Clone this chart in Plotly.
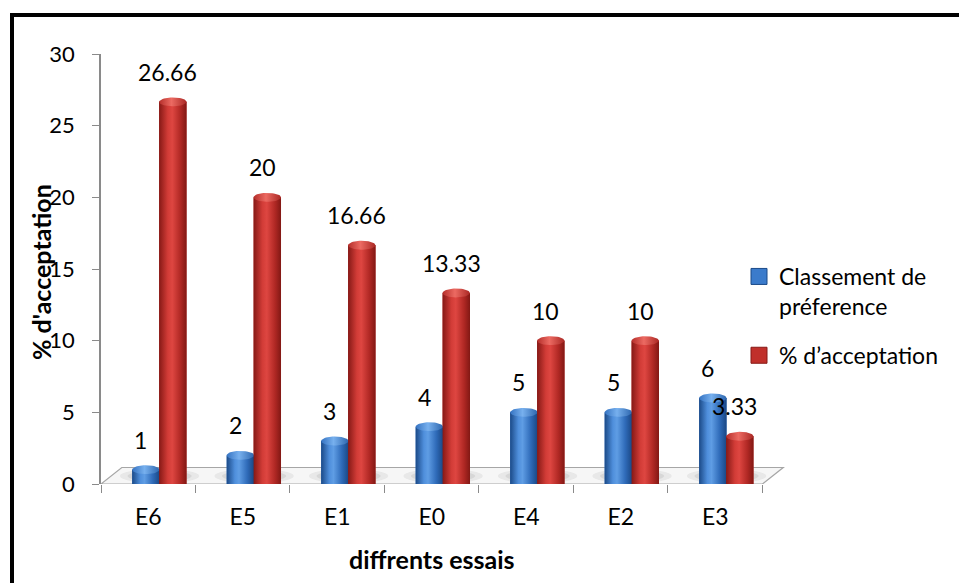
import numpy as np
import plotly.graph_objects as go

# Trials, ordered by preference rank
essais = ["E6", "E5", "E1", "E0", "E4", "E2", "E3"]
classement = [1, 2, 3, 4, 5, 5, 6]
acceptation = [26.66, 20, 16.66, 13.33, 10, 10, 3.33]
y_ticks = [0, 5, 10, 15, 20, 25, 30]

W, H = 959, 583
L, R, T, B = 101, 791, 54, 484          # plot area in pixels
X_RANGE = [-0.5, 6.802]
Y_RANGE = [0, 30]
FONT = "Lato"


def px_x(p):
    return (p - L) / (R - L)


def px_y(p):
    return (B - p) / (B - T)


BAR_W = 0.29
series = [
    dict(name="Classement de<br>préference", values=classement, offset=-0.17,
         color="#3b7bcb",
         body=[[0, "#1b4a88"], [0.3, "#4f8fdc"], [0.45, "#5f9de4"], [0.75, "#2f6bb9"], [1, "#1a4784"]],
         cap=[[0, "#3573c2"], [0.45, "#77b0ee"], [1, "#2d66ae"]]),
    dict(name="% d’acceptation", values=acceptation, offset=0.115,
         color="#c0302b",
         body=[[0, "#861916"], [0.32, "#d23c37"], [0.48, "#de4641"], [0.78, "#b02824"], [1, "#821814"]],
         cap=[[0, "#b52e2a"], [0.45, "#ec6a62"], [1, "#aa2824"]]),
]

fig = go.Figure()
x_idx = list(range(len(essais)))
CAP_RY = 0.31
theta = np.linspace(0, 2 * np.pi, 48)

for k, s in enumerate(series):
    # the bars themselves
    fig.add_trace(go.Bar(
        x=x_idx, y=s["values"], width=BAR_W, offset=s["offset"],
        marker=dict(color=s["color"], line=dict(width=0)),
        name=s["name"], legendgroup=f"g{k}", showlegend=False, hoverinfo="skip",
    ))
    # legend key
    fig.add_trace(go.Scatter(
        x=[None], y=[None], mode="markers", name=s["name"], legendgroup=f"g{k}",
        marker=dict(symbol="square", size=16, color=s["color"],
                    line=dict(color=s["body"][0][1], width=1)),
        showlegend=True, hoverinfo="skip",
    ))

for s in series:
    for i, v in zip(x_idx, s["values"]):
        x0 = i + s["offset"]
        x1 = x0 + BAR_W
        xc = (x0 + x1) / 2
        # cylindrical shading of the body
        fig.add_trace(go.Scatter(
            x=[x0, x0, x1, x1, x0], y=[0, v, v, 0, 0],
            mode="lines", line=dict(width=0), fill="toself",
            fillgradient=dict(type="horizontal", colorscale=s["body"]),
            showlegend=False, hoverinfo="skip",
        ))
        # elliptical top of the cylinder
        fig.add_trace(go.Scatter(
            x=xc + (BAR_W / 2) * np.cos(theta), y=v + CAP_RY * np.sin(theta),
            mode="lines", line=dict(width=0), fill="toself",
            fillgradient=dict(type="horizontal", colorscale=s["cap"]),
            showlegend=False, hoverinfo="skip",
        ))
        fig.add_annotation(
            x=xc, y=v, text=f"{v:g}", showarrow=False,
            xshift=-5, yshift=30, font=dict(family=FONT, size=23, color="black"),
        )

shapes = []
# floor of the 3D plot
dx, dy = 0.22, 1.15
x_lo, x_hi = -0.5, len(essais) - 0.5
shapes.append(dict(
    type="path", xref="x", yref="y", layer="below",
    path=f"M {x_lo},0 L {x_hi},0 L {x_hi + dx},{dy} L {x_lo + dx},{dy} Z",
    fillcolor="#f6f6f6", line=dict(color="#a6a6a6", width=1.2),
))
# soft shadows under each pair of cylinders
for i in x_idx:
    for (hw, hh, a) in [(0.42, 0.5, 0.10), (0.34, 0.38, 0.14), (0.26, 0.28, 0.16)]:
        cx, cy = i + 0.12, 0.55
        shapes.append(dict(
            type="circle", xref="x", yref="y", layer="below",
            x0=cx - hw, x1=cx + hw, y0=cy - hh, y1=cy + hh,
            fillcolor=f"rgba(110,110,110,{a})", line=dict(width=0),
        ))
# frame round the chart
shapes.append(dict(type="line", xref="paper", yref="paper",
                   x0=px_x(12), x1=px_x(12), y0=px_y(13), y1=px_y(600),
                   line=dict(color="black", width=4)))
shapes.append(dict(type="line", xref="paper", yref="paper",
                   x0=px_x(10), x1=px_x(980), y0=px_y(15), y1=px_y(15),
                   line=dict(color="black", width=4)))

fig.update_layout(
    width=W, height=H,
    margin=dict(l=L, r=W - R, t=T, b=H - B),
    paper_bgcolor="white", plot_bgcolor="rgba(0,0,0,0)",
    barmode="overlay",
    shapes=shapes,
    font=dict(family=FONT, color="black"),
    legend=dict(
        x=px_x(739), y=px_y(255), xanchor="left", yanchor="top",
        font=dict(family=FONT, size=23, color="black"),
        valign="top", bgcolor="rgba(0,0,0,0)", tracegroupgap=16,
        traceorder="grouped", itemsizing="trace",
    ),
    showlegend=True,
)

fig.update_xaxes(
    range=X_RANGE, tickmode="array", tickvals=x_idx, ticktext=essais,
    ticks="", showline=False, showgrid=False, zeroline=False,
    tickfont=dict(family=FONT, size=23, color="black"),
    ticklabelstandoff=17,
    minor=dict(tickmode="array", tickvals=[k - 0.5 for k in range(len(essais) + 1)],
               ticks="outside", ticklen=8, tickwidth=1.2, tickcolor="#8a8a8a",
               showgrid=False),
)
fig.update_yaxes(
    range=Y_RANGE, tickmode="array", tickvals=y_ticks,
    ticks="outside", ticklen=7, tickwidth=1.2, tickcolor="#8a8a8a",
    showline=True, linecolor="#8a8a8a", linewidth=1.5,
    showgrid=False, zeroline=False,
    tickfont=dict(family=FONT, size=22, color="black"),
    ticklabelstandoff=13,
)

# axis titles
fig.add_annotation(
    xref="paper", yref="paper", x=px_x(432), y=px_y(559),
    xanchor="center", yanchor="middle",
    text="<b>diffrents essais</b>", showarrow=False,
    font=dict(family=FONT, size=25, color="black"),
)
fig.add_annotation(
    xref="paper", yref="paper", x=px_x(41), y=px_y(272),
    xanchor="center", yanchor="middle", textangle=-90,
    text="<b>% d'acceptation</b>", showarrow=False,
    font=dict(family=FONT, size=25, color="black"),
)

fig.write_html("out.html")
